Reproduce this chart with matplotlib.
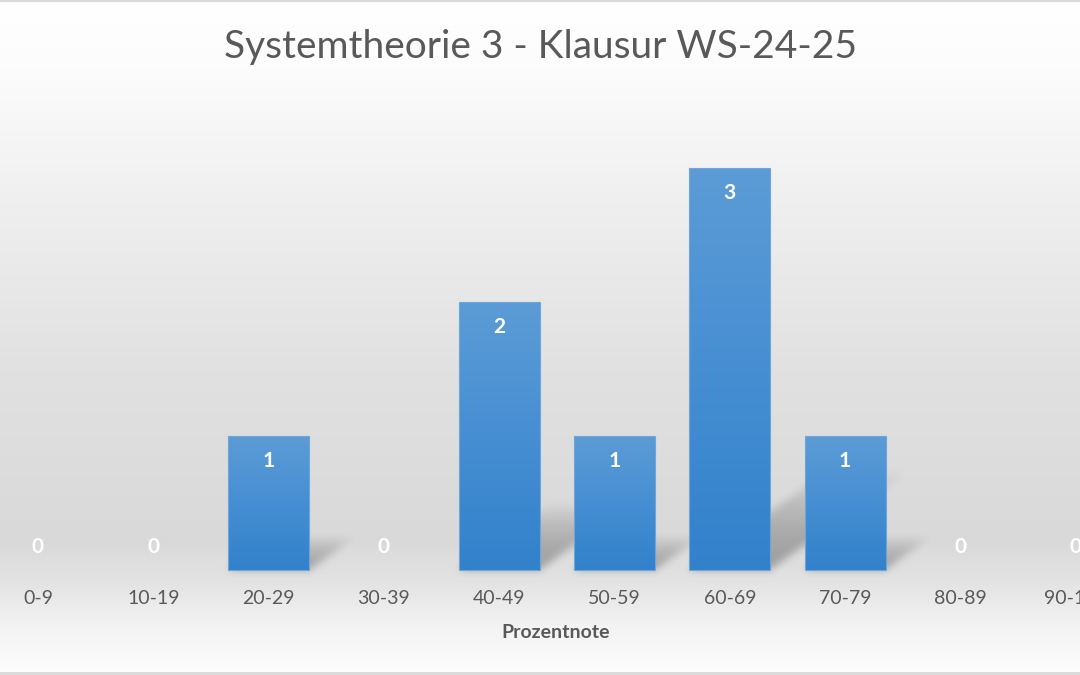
import matplotlib.pyplot as plt
import numpy as np
from matplotlib.colors import LinearSegmentedColormap

# Data
categories = ["0-9", "10-19", "20-29", "30-39", "40-49",
              "50-59", "60-69", "70-79", "80-89", "90-100"]
counts = [0, 0, 1, 0, 2, 1, 3, 1, 0, 0]
title = "Systemtheorie 3 - Klausur WS-24-25"
xlabel = "Prozentnote"

plt.rcParams["font.family"] = ["Lato", "DejaVu Sans"]
text_color = "#595959"

W, H = 1080, 675
fig = plt.figure(figsize=(W / 100, H / 100), dpi=100)
ax = fig.add_axes([0, 0, 1, 1])

# pixel layout of the category axis (first slot centre, slot width, baseline, px per unit)
x0_px, slot_px = 38, 115.3
base_px, unit_px = 570, 134
xlim = (-x0_px / slot_px, (W - x0_px) / slot_px)
ylim = (-(H - base_px) / unit_px, base_px / unit_px)

# background: white -> light gray -> white vertical gradient
bg_stops = [(0.0, "#ffffff"), (0.10, "#fcfcfc"), (0.30, "#efefef"),
            (0.55, "#e1e1e1"), (0.80, "#d9d9d9"), (0.86, "#e2e2e2"),
            (0.93, "#f3f3f3"), (1.0, "#fdfdfd")]
bg_cmap = LinearSegmentedColormap.from_list("bg", bg_stops)
grad = np.linspace(0, 1, 400).reshape(-1, 1)
ax.imshow(grad, cmap=bg_cmap, aspect="auto", extent=[0, 1, 0, 1],
          transform=ax.transAxes, zorder=0, interpolation="bilinear")

x = np.arange(len(categories))
bar_w = 81 / slot_px

# perspective shadows cast up and to the right of each bar
skew_x, skew_y = 0.40, 0.246
xs = np.linspace(xlim[0], xlim[1], W)
ys = np.linspace(ylim[1], ylim[0], H)
XX, YY = np.meshgrid(xs, ys)
shadow = np.zeros_like(XX)
for xc, h in zip(x, counts):
    if h <= 0:
        continue
    s = YY / skew_y
    inside = (YY >= 0) & (s <= h) & (np.abs(XX - xc - skew_x * s) <= bar_w / 2)
    val = np.where(inside, 0.30 * np.clip(1 - s / h, 0, 1) ** 0.7, 0)
    shadow = np.maximum(shadow, val)

sigma = 4.0
k = np.arange(-12, 13)
kern = np.exp(-k ** 2 / (2 * sigma ** 2))
kern /= kern.sum()
shadow = np.apply_along_axis(lambda r: np.convolve(r, kern, mode="same"), 1, shadow)
shadow = np.apply_along_axis(lambda c: np.convolve(c, kern, mode="same"), 0, shadow)
rgba = np.zeros((H, W, 4))
rgba[..., 3] = shadow
ax.imshow(rgba, aspect="auto", extent=[xlim[0], xlim[1], ylim[0], ylim[1]],
          zorder=1, interpolation="bilinear")

# bars with a vertical blue gradient
bars = ax.bar(x, counts, width=bar_w, color="none", edgecolor="#6fa6d9",
              linewidth=0.8, zorder=3)
bar_cmap = LinearSegmentedColormap.from_list(
    "bar", [(0.0, "#3281cb"), (0.45, "#448dd2"), (1.0, "#5c9cd6")])
for b in bars:
    h = b.get_height()
    if h <= 0:
        b.set_linewidth(0)
        continue
    im = ax.imshow(grad[::-1], cmap=bar_cmap, aspect="auto",
                   extent=[b.get_x(), b.get_x() + b.get_width(), 0, h],
                   zorder=2, interpolation="bilinear")
    im.set_clip_path(b)

ax.set_xlim(*xlim)
ax.set_ylim(*ylim)
ax.set_xticks([])
ax.set_yticks([])
for sp in ax.spines.values():
    sp.set_visible(False)

# data labels (white, bold) inside end of bars
for xc, h in zip(x, counts):
    y_lbl = h - 0.19 if h > 0 else 0.17
    ax.text(xc, y_lbl, str(h), ha="center", va="center",
            fontsize=15, fontweight="bold", color="white", zorder=4)

# category labels below the baseline
for xc, c in zip(x, categories):
    ax.text(xc, -28 / unit_px, c, ha="center", va="center",
            fontsize=14, color=text_color, zorder=4)

ax.text(556 / W, 1 - 632 / H, xlabel, transform=ax.transAxes, ha="center",
        va="center", fontsize=14, fontweight="bold", color=text_color)
ax.text(0.5, 1 - 47 / H, title, transform=ax.transAxes, ha="center",
        va="center", fontsize=28, color=text_color)

# thin frame lines at top and bottom
ax.axhline(ylim[1], color="#d9d9d9", linewidth=3, zorder=5)
ax.axhline(ylim[0] + 2 / unit_px, color="#d9d9d9", linewidth=2, zorder=5)

fig.savefig("out.png", dpi=100)
